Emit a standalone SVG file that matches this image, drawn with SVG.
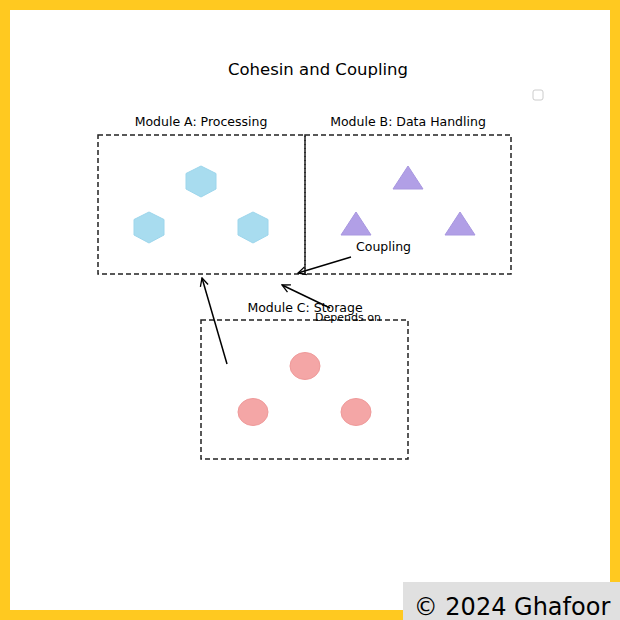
<svg xmlns="http://www.w3.org/2000/svg" width="620" height="620" viewBox="0 0 620 620">
<style>
text{font-family:"DejaVu Sans",sans-serif;fill:#000}
.box{fill:none;stroke:#222;stroke-width:1.5;stroke-dasharray:5,3}
.lbl{font-size:12.5px;text-anchor:middle}
.hex{fill:#a8dcef;stroke:#9dd6ec}
.tri{fill:#b19fe6;stroke:#a897e0}
.cir{fill:#f4a6a6;stroke:#ef9a9a}
.con{stroke:#000;stroke-width:1.5;fill:none;marker-end:url(#a)}
</style>
<defs><marker id="a" markerWidth="10" markerHeight="10" refX="9" refY="5" orient="auto" markerUnits="userSpaceOnUse"><path d="M1,1 L9,5 L1,9" fill="none" stroke="#000" stroke-width="1.3"/></marker></defs>
<rect x="0" y="0" width="620" height="620" fill="#ffc920"/>
<rect x="10" y="10" width="600" height="600" fill="#fff"/>
<text x="318" y="75" font-size="16.5" text-anchor="middle">Cohesin and Coupling</text>
<rect x="533" y="90" width="10" height="10" rx="2" fill="#fff" stroke="#ccc"/>
<g id="moduleA">
<rect class="box" x="98" y="135" width="207" height="139"/>
<text class="lbl" x="201" y="126">Module A: Processing</text>
<polygon class="hex" points="201,166 216,173.5 216,189 201,197 186,189 186,173.5"/>
<polygon class="hex" points="149,212 164,219.5 164,235 149,243 134,235 134,219.5"/>
<polygon class="hex" points="253,212 268,219.5 268,235 253,243 238,235 238,219.5"/>
</g>
<g id="moduleB">
<rect class="box" x="305" y="135" width="206" height="139"/>
<text class="lbl" x="408" y="126">Module B: Data Handling</text>
<polygon class="tri" points="408,166 423,189 393,189"/>
<polygon class="tri" points="356,212 371,235 341,235"/>
<polygon class="tri" points="460,212 475,235 445,235"/>
</g>
<g id="moduleC">
<rect class="box" x="201" y="320" width="207" height="139"/>
<text class="lbl" x="305" y="312">Module C: Storage</text>
<ellipse class="cir" cx="305" cy="366" rx="15" ry="13.5"/>
<ellipse class="cir" cx="253" cy="412" rx="15" ry="13.5"/>
<ellipse class="cir" cx="356" cy="412" rx="15" ry="13.5"/>
</g>
<g id="connectors">
<path class="con" d="M351,257 L298,273"/>
<text x="356" y="251" font-size="12.5">Coupling</text>
<path class="con" d="M330,308 L282,285"/>
<text x="315" y="321" font-size="11">Depends on</text>
<path class="con" d="M227,364 L202,278"/>
</g>
<rect x="403" y="582" width="217" height="38" fill="#e0e0e0"/>
<text x="512" y="615" font-size="24" text-anchor="middle">© 2024 Ghafoor</text>
</svg>
